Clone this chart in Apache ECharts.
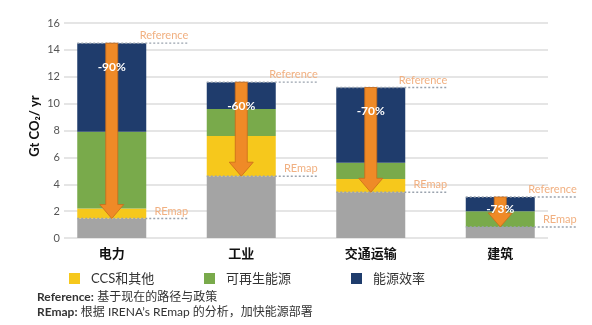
<!DOCTYPE html>
<html>
<head>
<meta charset="utf-8">
<script src="https://cdn.jsdelivr.net/npm/echarts@6/dist/echarts.min.js"></script>
<style>
  html, body { margin: 0; padding: 0; background: #fff; }
  #chart { width: 592px; height: 325px; }
</style>
</head>
<body>
<div id="chart"></div>
<script>
// Sectors and the CO2 abatement split per sector (Gt CO2 / yr)
const categories = ['电力', '工业', '交通运输', '建筑'];
const remaining  = [1.45, 4.6, 3.4, 0.82];   // emissions left under REmap
const ccsOther   = [0.75, 3.0, 1.0, 0];      // CCS和其他
const renewables = [5.7, 2.0, 1.2, 1.18];    // 可再生能源
const efficiency = [6.6, 2.0, 5.6, 1.05];    // 能源效率
const cutLabels  = ['-90%', '-60%', '-70%', '-73%'];
const yTicks = { min: 0, max: 16, interval: 2 };

const FONT = 'Lato, "Noto Sans CJK SC", sans-serif';
const C = {
  gray: '#a4a4a4', yellow: '#f6c81c', green: '#79aa4b', navy: '#1f3c6c',
  arrow: '#ef8a27', arrowEdge: '#c96c1b', dot: '#9aa3ae', note: '#f1b081'
};

// Reference total (top of the stack) and REmap level per sector
const totals = categories.map((_, i) => remaining[i] + ccsOther[i] + renewables[i] + efficiency[i]);
const arrowData = categories.map((_, i) => [i, totals[i], remaining[i], cutLabels[i]]);

const BAR_W = 69;

function renderArrow(params, api) {
  const idx = api.value(0);
  const top = api.coord([idx, api.value(1)]);
  const bot = api.coord([idx, api.value(2)]);
  const cx = top[0];
  const left = cx - BAR_W / 2, right = cx + BAR_W / 2, ext = right + 42;
  const shaft = 6, head = 12, headH = 14;
  const children = [];
  // dotted Reference / REmap levels
  [top[1], bot[1]].forEach(y => {
    children.push({
      type: 'line', shape: { x1: left, y1: y, x2: ext, y2: y },
      style: { stroke: C.dot, lineWidth: 1.4, lineDash: [2, 2] }
    });
  });
  children.push({
    type: 'text', style: { text: 'Reference', x: ext, y: top[1] - 2, align: 'right', verticalAlign: 'bottom',
      fill: C.note, font: '11px ' + FONT }
  });
  children.push({
    type: 'text', style: { text: 'REmap', x: ext, y: bot[1] - 2, align: 'right', verticalAlign: 'bottom',
      fill: C.note, font: '11px ' + FONT }
  });
  // downward arrow from Reference to REmap
  const hy = bot[1] - headH;
  children.push({
    type: 'polygon',
    shape: { points: [
      [cx - shaft, top[1]], [cx + shaft, top[1]], [cx + shaft, hy], [cx + head, hy],
      [cx, bot[1]], [cx - head, hy], [cx - shaft, hy]
    ] },
    style: { fill: C.arrow, stroke: C.arrowEdge, lineWidth: 0.8 }
  });
  const ly = top[1] + Math.min(24, 0.4 * (bot[1] - top[1]));
  children.push({
    type: 'text', style: { text: api.value(3), x: cx, y: ly, align: 'center', verticalAlign: 'middle',
      fill: '#fff', font: 'bold 12px ' + FONT }
  });
  return { type: 'group', children };
}

const chart = echarts.init(document.getElementById('chart'), null, { renderer: 'canvas' });

const legendBase = {
  top: 267, itemWidth: 11, itemHeight: 11, icon: 'rect',
  textStyle: { fontSize: 13, color: '#333', fontFamily: FONT, padding: [0, 0, 0, 6] }
};

chart.setOption({
  animation: false,
  backgroundColor: '#fff',
  grid: [
    { left: 47, right: 27, top: 23, bottom: 87 },
    { left: 64, right: 44, top: 23, bottom: 87 }
  ],
  xAxis: [
    {
      type: 'category', data: categories, gridIndex: 0,
      axisLine: { show: false }, axisTick: { show: false },
      axisLabel: { margin: 9, fontSize: 13, fontWeight: 'bold', color: '#111', fontFamily: FONT }
    },
    { type: 'category', data: categories, gridIndex: 1, show: false }
  ],
  yAxis: [
    { type: 'value', gridIndex: 0, ...yTicks, show: false },
    {
      type: 'value', gridIndex: 1, ...yTicks,
      axisLine: { show: false }, axisTick: { show: false },
      axisLabel: { margin: 4, fontSize: 11, color: '#555', fontFamily: FONT },
      splitLine: { lineStyle: { color: '#dcdcdc', width: 1.5 } }
    }
  ],
  legend: [
    { ...legendBase, left: 64, data: ['CCS和其他'] },
    { ...legendBase, left: 199, data: ['可再生能源'] },
    { ...legendBase, left: 346, data: ['能源效率'] }
  ],
  series: [
    { name: 'REmap', type: 'bar', stack: 's', barWidth: BAR_W, data: remaining, itemStyle: { color: C.gray } },
    { name: 'CCS和其他', type: 'bar', stack: 's', barWidth: BAR_W, data: ccsOther, itemStyle: { color: C.yellow } },
    { name: '可再生能源', type: 'bar', stack: 's', barWidth: BAR_W, data: renewables, itemStyle: { color: C.green } },
    { name: '能源效率', type: 'bar', stack: 's', barWidth: BAR_W, data: efficiency, itemStyle: { color: C.navy } },
    { type: 'custom', renderItem: renderArrow, data: arrowData, z: 5,
      encode: { x: 0, y: [1, 2] }, silent: true }
  ],
  graphic: [
    {
      type: 'text', x: 35, y: 126, rotation: Math.PI / 2,
      style: { text: 'Gt CO₂/ yr', align: 'center', verticalAlign: 'middle',
        font: 'bold 13px ' + FONT, fill: '#111' }
    },
    {
      type: 'text', left: 37, top: 291,
      style: {
        text: '{b|Reference:} {n|基于现在的路径与政策}\n{b|REmap:} {n|根据 IRENA’s REmap 的分析，加快能源部署}',
        rich: {
          b: { fontWeight: 'bold', fontSize: 12, fill: '#333', fontFamily: FONT, lineHeight: 15 },
          n: { fontSize: 12, fill: '#333', fontFamily: FONT, lineHeight: 15 }
        }
      }
    }
  ]
});
</script>
</body>
</html>
